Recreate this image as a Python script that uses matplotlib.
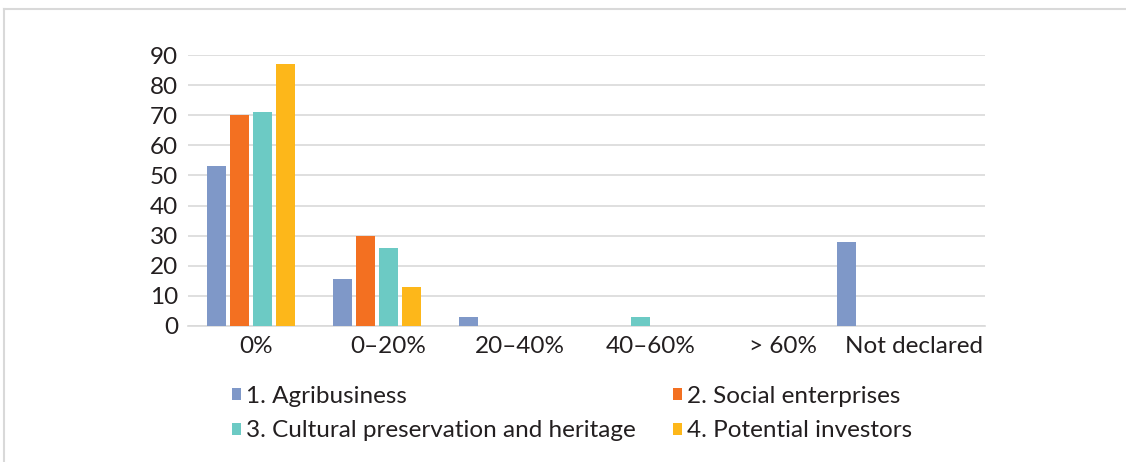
import matplotlib
matplotlib.use("Agg")
import matplotlib.pyplot as plt
import numpy as np
from matplotlib.lines import Line2D

categories = ["0%", "0–20%", "20–40%", "40–60%", "> 60%", "Not declared"]
series_names = ["1. Agribusiness", "2. Social enterprises",
                "3. Cultural preservation and heritage", "4. Potential investors"]
agribusiness = [53, 15.5, 3, 0, 0, 28]
social = [70, 30, 0, 0, 0, 0]
cultural = [71, 26, 0, 3, 0, 0]
investors = [87, 13, 0, 0, 0, 0]
yticks = [0, 10, 20, 30, 40, 50, 60, 70, 80, 90]
colors = ["#7F98C8", "#F37021", "#6CCAC4", "#FDB71A"]

plt.rcParams['font.family'] = ['Lato', 'DejaVu Sans']
TXT = "#231f20"

fig = plt.figure(figsize=(11.26, 4.62), dpi=100)
ax = fig.add_axes([188/1126, 1-326/462, (985-188)/1126, (326-55)/462])

x = np.arange(len(categories))
slot = 0.183
bw = 0.145
data = [agribusiness, social, cultural, investors]
handles = []
for i, (vals, c, name) in enumerate(zip(data, colors, series_names)):
    h = ax.bar(x + (i - 1.5) * slot, vals, width=bw, color=c, label=name, zorder=3)
    handles.append(h)

ax.set_xlim(-0.5, 5.825)
ax.set_ylim(0, 90)
ax.set_yticks(yticks)
label_scale = 1.045
ax.set_xticks(x * label_scale + 0.04)
ax.set_xticklabels(categories)
ax.yaxis.grid(True, color="#d9d9d9", linewidth=1.2, zorder=0)
ax.set_axisbelow(True)
for s in ["top", "right", "left"]:
    ax.spines[s].set_visible(False)
ax.spines["bottom"].set_color("#d9d9d9")
ax.spines["bottom"].set_linewidth(1.2)
ax.tick_params(axis="both", length=0, labelsize=17.5, colors=TXT)
ax.tick_params(axis="y", pad=7)
ax.tick_params(axis="x", pad=7)

order = [0, 2, 1, 3]
leg = fig.legend([handles[k] for k in order], [series_names[k] for k in order],
                 loc="upper left", bbox_to_anchor=(232/1126, 1-386/462), ncol=2,
                 frameon=False, fontsize=17.5, handlelength=0.37, handleheight=0.37,
                 handletextpad=0.2, columnspacing=1.55, labelspacing=0.55,
                 borderpad=0, borderaxespad=0, labelcolor=TXT)

fig.add_artist(Line2D([3.5/1126, 3.5/1126], [0, 1-8.5/462], color="#d9d9d9", lw=1.5))
fig.add_artist(Line2D([3.5/1126, 1], [1-8.5/462, 1-8.5/462], color="#d9d9d9", lw=1.5))

fig.savefig("out.png", dpi=100)
